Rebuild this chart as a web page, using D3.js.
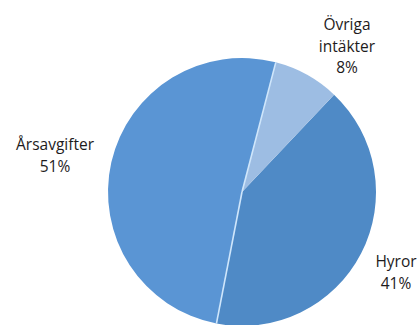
<!DOCTYPE html>
<html>
<head>
<meta charset="utf-8">
<script src="https://cdn.jsdelivr.net/npm/d3@7"></script>
<style>
  html, body { margin: 0; padding: 0; background: #fff; }
  svg { display: block; }
  .pie-label { font-family: "Open Sans", "Noto Sans", sans-serif; font-size: 15.5px; fill: #1e1b1c; }
</style>
</head>
<body>
<div id="chart"></div>
<script>
  const categories = ['Hyror', 'Årsavgifter', 'Övriga intäkter'];
  const values = [41, 51, 8];
  const labelLines = [['Hyror', '41%'], ['Årsavgifter', '51%'], ['Övriga', 'intäkter', '8%']];
  const colors = ['#4f8ac6', '#5a95d4', '#9dbde3'];

  const width = 420, height = 325;
  const cx = 242, cy = 192, radius = 134;

  const svg = d3.select('#chart').append('svg')
    .attr('width', width)
    .attr('height', height);

  const g = svg.append('g').attr('transform', `translate(${cx},${cy})`);

  // Hyror starts at about 43 degrees, clockwise
  const start = 43.4 * Math.PI / 180;
  const pie = d3.pie().sort(null).startAngle(start).endAngle(start + 2 * Math.PI);
  const arcs = pie(values);
  const arc = d3.arc().innerRadius(0).outerRadius(radius);

  g.selectAll('path')
    .data(arcs)
    .join('path')
    .attr('d', arc)
    .attr('fill', (d, i) => colors[i]);

  // light separators on the Årsavgifter edges
  const sepAngles = [arcs[1].startAngle, arcs[1].endAngle];
  g.selectAll('line.sep')
    .data(sepAngles)
    .join('line')
    .attr('class', 'sep')
    .attr('x1', 0).attr('y1', 0)
    .attr('x2', a => Math.sin(a) * radius)
    .attr('y2', a => -Math.cos(a) * radius)
    .attr('stroke', '#cfe6fb')
    .attr('stroke-width', 1.6);

  // label anchor points (first baseline), outside the pie
  const labelPos = [[396, 267], [55, 150], [347, 30]];
  const lineH = 21.5;

  svg.selectAll('text.pie-label')
    .data(labelLines)
    .join('text')
    .attr('class', 'pie-label')
    .attr('text-anchor', 'middle')
    .attr('x', (d, i) => labelPos[i][0])
    .attr('y', (d, i) => labelPos[i][1])
    .selectAll('tspan')
    .data(d => d)
    .join('tspan')
    .attr('x', function () { return this.parentNode.getAttribute('x'); })
    .attr('dy', (d, i) => i === 0 ? 0 : lineH)
    .text(d => d);
</script>
</body>
</html>
